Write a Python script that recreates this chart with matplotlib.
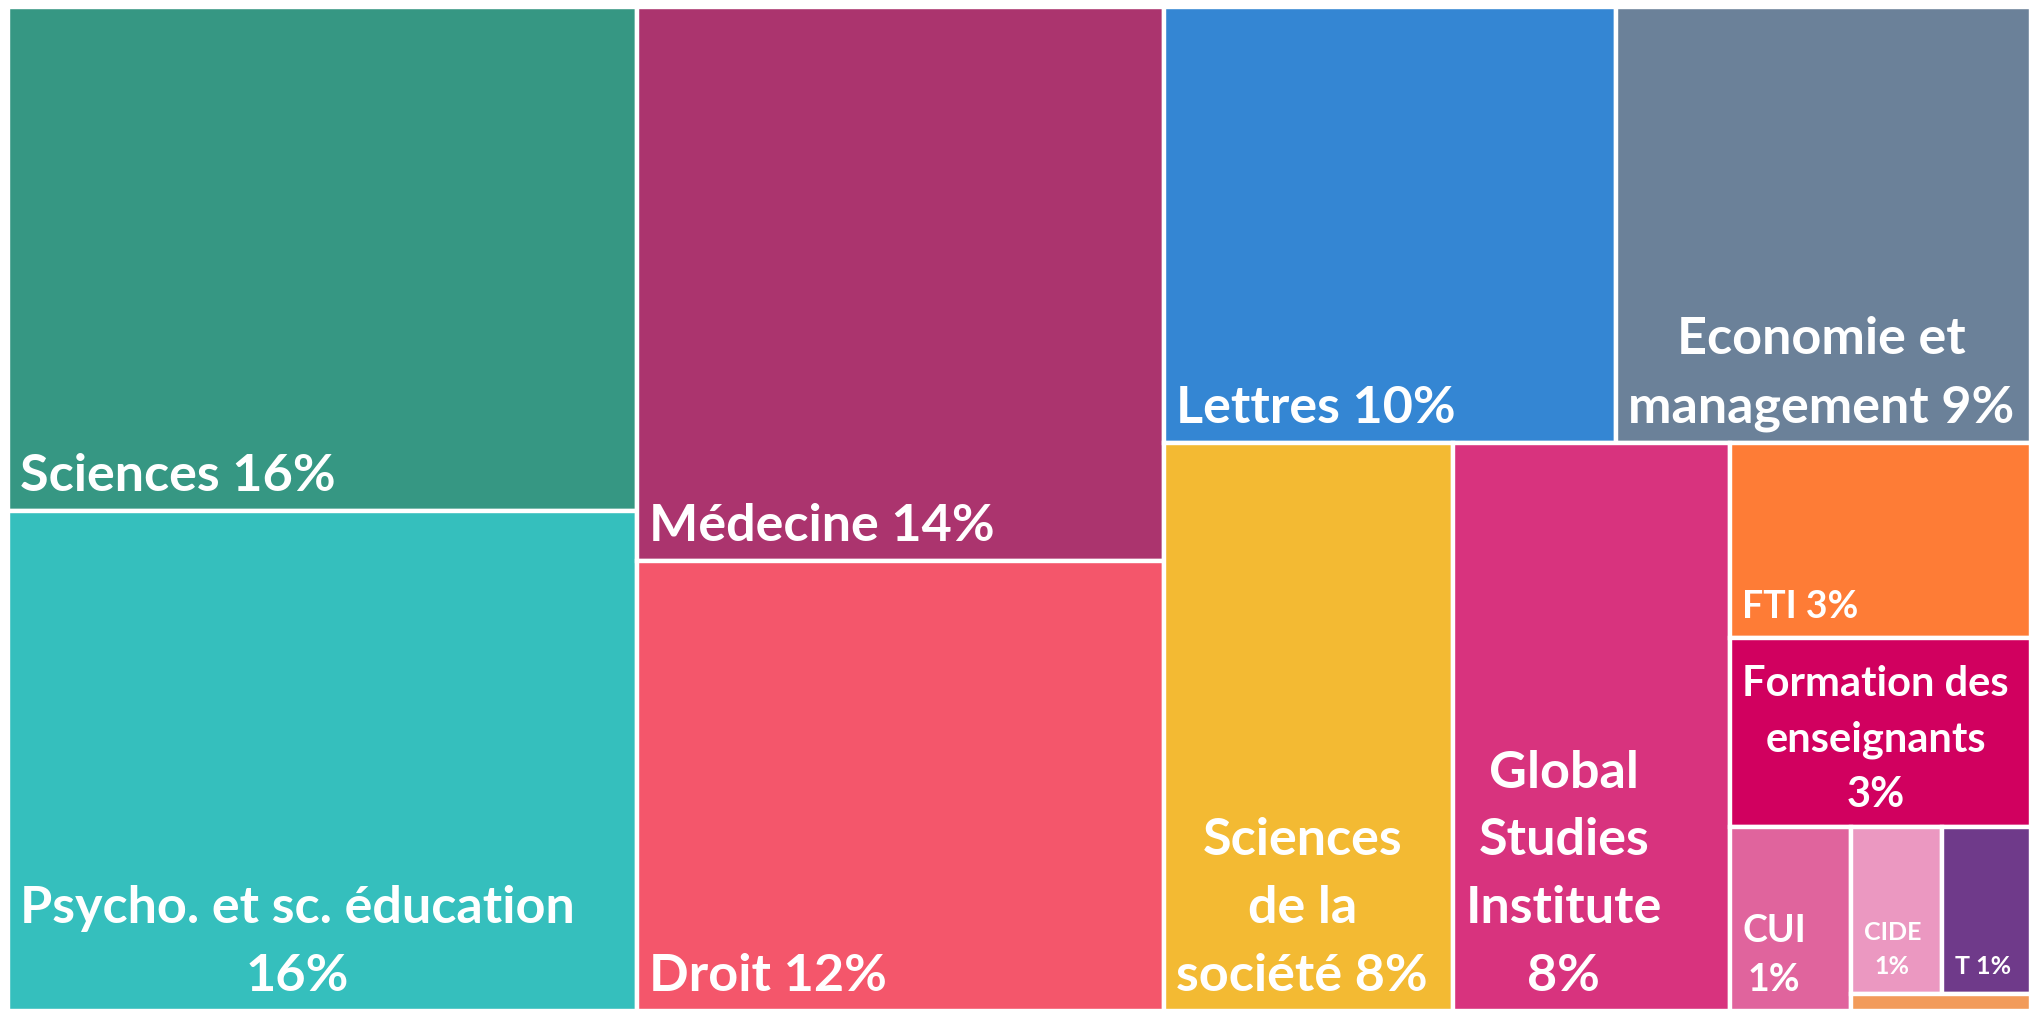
import matplotlib
matplotlib.use("Agg")
import matplotlib.pyplot as plt
from matplotlib.patches import Rectangle

# faculty shares (percent)
names = ["Sciences", "Psycho. et sc. éducation", "Médecine", "Droit", "Lettres",
         "Economie et\nmanagement", "Sciences\nde la\nsociété", "Global\nStudies\nInstitute",
         "FTI", "Formation des\nenseignants", "CUI", "CIDE", "T", "Autres"]
values = [15.6, 15.5, 14.4, 11.7, 9.7, 8.9, 8.1, 7.75, 2.9, 2.8, 1.1, 0.75, 0.73, 0.15]
pct_sep = [" ", "\n", " ", " ", " ", " ", " ", "\n", " ", "\n", "\n", "\n", " ", None]

colors = ["#369783", "#35BFBD", "#AB346E", "#F4566B", "#3486D3", "#6B8199", "#F3BA33",
          "#D8337E", "#FE7C36", "#D1005F", "#E0649D", "#EB98C1", "#6F3A8A", "#F29B5A"]
label_sizes = [37.5, 37.5, 37.5, 37.5, 37.5, 37.5, 37.5, 37.5, 27, 30, 27, 18, 18, 0]

W, H = 2042, 1020
GAP = 4.4  # white gap between tiles, px


def worst(row, side):
    s = sum(row)
    return max(max(side ** 2 * r / s ** 2, s ** 2 / (side ** 2 * r)) for r in row)


def squarify(vals, x, y, w, h):
    total = sum(vals)
    areas = [v * w * h / total for v in vals]
    rects = []
    while areas:
        side = min(w, h)
        row = [areas.pop(0)]
        while areas and worst(row + [areas[0]], side) <= worst(row, side):
            row.append(areas.pop(0))
        s = sum(row)
        if w >= h:
            cw = s / h
            yy = y
            for a in row:
                rects.append((x, yy, cw, a / cw))
                yy += a / cw
            x += cw
            w -= cw
        else:
            rh = s / w
            xx = x
            for a in row:
                rects.append((xx, y, a / rh, rh))
                xx += a / rh
            y += rh
            h -= rh
    return rects


fig = plt.figure(figsize=(W / 100, H / 100), dpi=100)
ax = fig.add_axes([0, 0, 1, 1])
ax.set_xlim(0, W)
ax.set_ylim(H, 0)
ax.axis("off")

rects = squarify(values, 8, 8, 2023, 1004)
lw = GAP * 72 / 100

for (x, y, w, h), name, v, sep, c, fs in zip(rects, names, values, pct_sep, colors, label_sizes):
    ax.add_patch(Rectangle((x, y), w, h, facecolor=c, edgecolor="white", linewidth=lw))
    if sep is None:
        continue
    label = f"{name}{sep}{int(v + 0.5)}%"
    em = fs * 100 / 72
    ax.text(x + GAP / 2 + 10, y + h - GAP / 2 - (20 - 0.2 * em), label,
            ha="left", va="bottom", multialignment="center",
            color="white", fontsize=fs, fontweight="bold",
            family=["Lato", "DejaVu Sans"], linespacing=1.55)

fig.savefig("out.png", dpi=100, facecolor="white")
